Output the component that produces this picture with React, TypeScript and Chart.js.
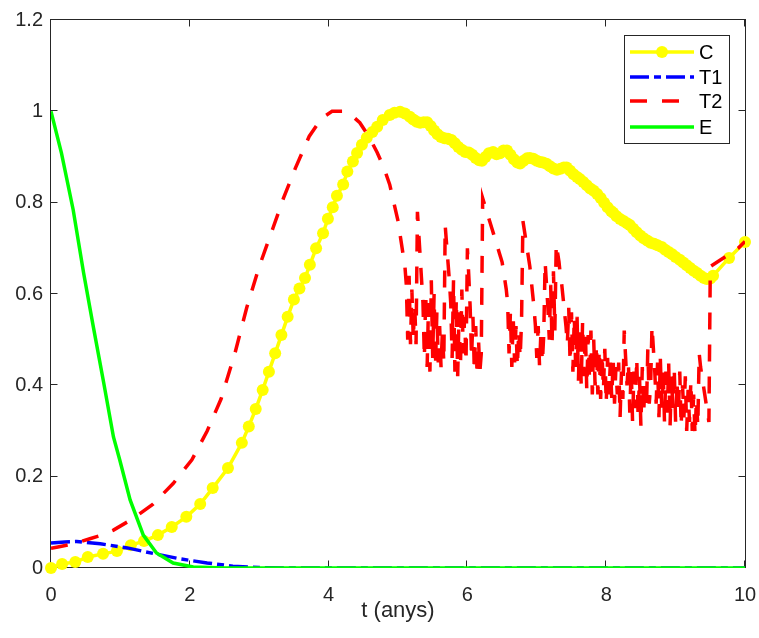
import React, { useEffect, useRef } from 'react';
import { Chart, registerables } from 'chart.js';

Chart.register(...registerables);

// ---- data ----
const C_T = [0, 0.16, 0.35, 0.53, 0.75, 0.95, 1.15, 1.34, 1.54, 1.74, 1.95, 2.15, 2.33, 2.55, 2.75,
  2.85, 2.95, 3.05, 3.14, 3.23, 3.32, 3.41, 3.5, 3.58, 3.66, 3.73, 3.82, 3.92, 3.99, 4.06, 4.12, 4.21,
  4.27, 4.35, 4.41, 4.48, 4.55, 4.63, 4.7, 4.78,
  4.88, 4.95, 5.03, 5.1, 5.17, 5.22, 5.27, 5.32, 5.37, 5.42, 5.47, 5.52, 5.57, 5.62, 5.67, 5.72, 5.77,
  5.82, 5.87, 5.92, 5.97, 6.02, 6.07, 6.12, 6.17, 6.21, 6.26, 6.31, 6.37, 6.42, 6.47, 6.52, 6.57, 6.62,
  6.67, 6.72, 6.76, 6.81, 6.86, 6.9, 6.95, 7.0, 7.05, 7.09, 7.14, 7.19, 7.24, 7.29, 7.34, 7.39, 7.43,
  7.48, 7.53, 7.58, 7.62, 7.67, 7.72, 7.77, 7.82, 7.87, 7.92, 7.97, 8.02, 8.07, 8.1, 8.15, 8.2, 8.25,
  8.3, 8.34, 8.39, 8.44, 8.49, 8.54, 8.59, 8.64, 8.69, 8.74, 8.8, 8.85, 8.9, 8.95, 9.0, 9.06, 9.11,
  9.16, 9.21, 9.26, 9.31, 9.36, 9.41, 9.45, 9.5, 9.54, 9.77, 10.0];
const C_V = [0, 0.009, 0.013, 0.024, 0.031, 0.037, 0.05, 0.059, 0.072, 0.09, 0.112, 0.14, 0.175, 0.219, 0.274,
  0.31, 0.348, 0.39, 0.43, 0.47, 0.51, 0.55, 0.588, 0.612, 0.635, 0.664, 0.7, 0.733, 0.765, 0.79, 0.815, 0.84,
  0.868, 0.89, 0.909, 0.927, 0.942, 0.955, 0.966, 0.981,
  0.992, 0.997, 0.999, 0.995, 0.988, 0.982, 0.977, 0.975, 0.976, 0.976, 0.968, 0.958, 0.95, 0.944, 0.941, 0.94, 0.937,
  0.93, 0.922, 0.916, 0.911, 0.91, 0.905, 0.898, 0.893, 0.892, 0.9, 0.908, 0.911, 0.906, 0.908, 0.914, 0.914, 0.905,
  0.895, 0.888, 0.886, 0.892, 0.897, 0.898, 0.896, 0.892, 0.889, 0.888, 0.885, 0.88, 0.875, 0.872, 0.874, 0.877, 0.877,
  0.87, 0.862, 0.856, 0.852, 0.845, 0.838, 0.831, 0.826, 0.819, 0.81, 0.8, 0.79, 0.782, 0.778, 0.77, 0.764, 0.76,
  0.755, 0.751, 0.743, 0.735, 0.728, 0.722, 0.717, 0.712, 0.71, 0.707, 0.703, 0.697, 0.692, 0.687, 0.681, 0.675, 0.669,
  0.663, 0.657, 0.651, 0.646, 0.64, 0.635, 0.633, 0.634, 0.64, 0.679, 0.714];

const T1_T = [0, 0.2, 0.37, 0.71, 1.1, 1.47, 1.86, 2.25, 2.62, 3.0, 3.4, 10];
const T1_V = [0.055, 0.057, 0.058, 0.053, 0.044, 0.032, 0.02, 0.011, 0.004, 0.001, 0, 0];

// T2: smooth start
const T2_SMOOTH_T = [0, 0.1, 0.3, 0.56, 0.75, 0.9, 1.18, 1.47, 1.76, 2.03, 2.25, 2.45, 2.65, 2.82, 3.0, 3.2,
  3.35, 3.52, 3.72, 3.9, 4.05, 4.2, 4.32, 4.45, 4.58, 4.7, 4.8, 4.88, 5.0, 5.07, 5.1];
const T2_SMOOTH_V = [0.043, 0.046, 0.052, 0.064, 0.073, 0.083, 0.108, 0.14, 0.185, 0.237, 0.3, 0.37, 0.47, 0.57, 0.66, 0.745,
  0.81, 0.875, 0.945, 0.985, 1.0, 1.0, 0.993, 0.975, 0.945, 0.91, 0.875, 0.84, 0.76, 0.69, 0.66];
// T2: oscillating part, samples every 0.02 from t = 5.12
const T2_NOISE_START = 5.12;
const T2_NOISE_STEP = 0.02;
const T2_NOISE_V = [
  0.62, 0.50, 0.64, 0.49, 0.61, 0.50, 0.58, 0.49, 0.78, 0.73, 0.68, 0.63, 0.58, 0.46, 0.60, 0.44, 0.58, 0.43, 0.63, 0.46,
  0.60, 0.44, 0.56, 0.45, 0.53, 0.44, 0.52, 0.45, 0.75, 0.71, 0.67, 0.63, 0.58, 0.46, 0.63, 0.43, 0.59, 0.42, 0.56, 0.44,
  0.61, 0.47, 0.55, 0.45, 0.70, 0.64, 0.57, 0.46, 0.55, 0.43, 0.53, 0.42, 0.50, 0.43, 0.47, 0.81, 0.80, 0.79, 0.78, 0.77,
  0.76, 0.75, 0.74, 0.73, 0.72, 0.71, 0.70, 0.69, 0.68, 0.67, 0.65, 0.63, 0.61, 0.58, 0.47, 0.56, 0.44, 0.55, 0.45, 0.53,
  0.44, 0.52, 0.46, 0.54, 0.76, 0.74, 0.72, 0.70, 0.68, 0.66, 0.63, 0.60, 0.57, 0.53, 0.46, 0.53, 0.44, 0.52, 0.45, 0.51,
  0.67, 0.62, 0.57, 0.50, 0.62, 0.49, 0.65, 0.52, 0.71, 0.69, 0.67, 0.64, 0.62, 0.59, 0.56, 0.53, 0.49, 0.57, 0.45, 0.56,
  0.43, 0.55, 0.44, 0.55, 0.41, 0.53, 0.40, 0.54, 0.42, 0.52, 0.39, 0.51, 0.41, 0.52, 0.38, 0.50, 0.40, 0.49, 0.38, 0.48,
  0.37, 0.47, 0.39, 0.48, 0.36, 0.46, 0.38, 0.45, 0.37, 0.46, 0.36, 0.44, 0.38, 0.45, 0.33, 0.43, 0.37, 0.52, 0.46, 0.40,
  0.45, 0.34, 0.44, 0.32, 0.43, 0.35, 0.46, 0.33, 0.42, 0.31, 0.44, 0.34, 0.41, 0.35, 0.48, 0.36, 0.40, 0.53, 0.48, 0.43,
  0.36, 0.45, 0.33, 0.46, 0.35, 0.44, 0.32, 0.43, 0.34, 0.45, 0.31, 0.42, 0.35, 0.44, 0.32, 0.41, 0.34, 0.43, 0.31, 0.40,
  0.33, 0.42, 0.30, 0.39, 0.32, 0.41, 0.30, 0.38, 0.29, 0.37, 0.31, 0.47, 0.44, 0.42, 0.40, 0.38, 0.36, 0.34, 0.32, 0.66];
const T2_END_T = [9.6, 9.75, 9.9, 10.0];
const T2_END_V = [0.67, 0.685, 0.7, 0.715];

const E_T = [0, 0.15, 0.32, 0.47, 0.61, 0.76, 0.9, 0.99, 1.14, 1.33, 1.52, 1.76, 2.05, 2.5, 10];
const E_V = [1.0, 0.909, 0.784, 0.646, 0.528, 0.405, 0.287, 0.237, 0.149, 0.072, 0.033, 0.011, 0.002, 0, 0];

const X_TICKS = [0, 2, 4, 6, 8, 10];
const X_TICK_LABELS = ['0', '2', '4', '6', '8', '10'];
const Y_TICKS = [0, 0.2, 0.4, 0.6, 0.8, 1.0, 1.2];
const Y_TICK_LABELS = ['0', '0.2', '0.4', '0.6', '0.8', '1', '1.2'];
const SERIES_LABELS = ['C', 'T1', 'T2', 'E'];
const X_TITLE = 't (anys)';

const FONT = '"Liberation Sans", Arial, Helvetica, sans-serif';
const AXIS_COLOR = '#262626';

function pts(ts: number[], vs: number[]) {
  return ts.map((t, i) => ({ x: t, y: vs[i] }));
}

const framePlugin = {
  id: 'matlabFrame',
  beforeDatasetsDraw(chart: any) {
    const { ctx, chartArea: a, scales } = chart;
    ctx.save();
    ctx.strokeStyle = AXIS_COLOR;
    ctx.lineWidth = 1;
    const L = Math.round(a.left) - 0.5;
    const R = Math.round(a.right) + 0.5;
    const T = Math.round(a.top) - 0.5;
    const B = Math.round(a.bottom) - 0.5;
    ctx.strokeRect(L, T, R - L, B - T);
    const len = 7;
    ctx.beginPath();
    X_TICKS.forEach((v) => {
      const px = Math.round(scales.x.getPixelForValue(v)) - 0.5;
      ctx.moveTo(px, B); ctx.lineTo(px, B - len);
      ctx.moveTo(px, T); ctx.lineTo(px, T + len);
    });
    Y_TICKS.forEach((v) => {
      const py = Math.round(scales.y.getPixelForValue(v)) - 0.5;
      ctx.moveTo(L, py); ctx.lineTo(L + len, py);
      ctx.moveTo(R, py); ctx.lineTo(R - len, py);
    });
    ctx.stroke();
    ctx.restore();
  },
};

const legendPlugin = {
  id: 'insideLegend',
  afterDraw(chart: any) {
    const { ctx } = chart;
    const box = { x: 624.5, y: 35.5, w: 105, h: 108 };
    ctx.save();
    ctx.fillStyle = '#ffffff';
    ctx.fillRect(box.x, box.y, box.w, box.h);
    ctx.strokeStyle = AXIS_COLOR;
    ctx.lineWidth = 1;
    ctx.strokeRect(box.x, box.y, box.w, box.h);
    const rows = [52, 77, 101, 127];
    const order = [0, 1, 2, 3];
    order.forEach((di, r) => {
      const ds = chart.data.datasets[di];
      const y = rows[r];
      ctx.save();
      ctx.strokeStyle = ds.borderColor;
      ctx.lineWidth = ds.borderWidth;
      ctx.setLineDash(ds.borderDash || []);
      ctx.beginPath();
      ctx.moveTo(630, y);
      ctx.lineTo(694, y);
      ctx.stroke();
      ctx.restore();
      if (ds.pointRadius > 0) {
        ctx.fillStyle = ds.pointBackgroundColor;
        ctx.beginPath();
        ctx.arc(662, y, ds.pointRadius, 0, Math.PI * 2);
        ctx.fill();
      }
      ctx.fillStyle = '#000000';
      ctx.font = `20px ${FONT}`;
      ctx.textBaseline = 'middle';
      ctx.textAlign = 'left';
      ctx.fillText(ds.label, 699, y + 1);
    });
    ctx.restore();
  },
};

export default function App() {
  const ref = useRef<HTMLCanvasElement | null>(null);
  useEffect(() => {
    if (!ref.current) return;
    const t2 = [
      ...pts(T2_SMOOTH_T, T2_SMOOTH_V),
      ...T2_NOISE_V.map((v, i) => ({ x: +(T2_NOISE_START + T2_NOISE_STEP * i).toFixed(2), y: v })),
      ...pts(T2_END_T, T2_END_V),
    ];
    const chart = new Chart(ref.current, {
      type: 'line',
      data: {
        datasets: [
          {
            label: SERIES_LABELS[0], data: pts(C_T, C_V), borderColor: '#ffff00', backgroundColor: '#ffff00',
            borderWidth: 3.5, pointRadius: 6, pointBackgroundColor: '#ffff00', pointBorderWidth: 0,
            pointHoverRadius: 6, tension: 0, order: 4, clip: false,
          },
          {
            label: SERIES_LABELS[1], data: pts(T1_T, T1_V), borderColor: '#0000ff', borderWidth: 3.5,
            borderDash: [19, 5, 7, 5], pointRadius: 0, tension: 0, order: 3,
          },
          {
            label: SERIES_LABELS[2], data: t2, borderColor: '#ff0000', borderWidth: 3.5,
            borderDash: [17, 15], pointRadius: 0, tension: 0, order: 2,
          },
          {
            label: SERIES_LABELS[3], data: pts(E_T, E_V), borderColor: '#00ff00', borderWidth: 3.5,
            pointRadius: 0, tension: 0, order: 1,
          },
        ],
      },
      options: {
        responsive: false,
        animation: false,
        devicePixelRatio: 1,
        events: [],
        layout: { padding: { left: 0, top: 20, right: 14, bottom: 0 } },
        plugins: { legend: { display: false }, tooltip: { enabled: false } },
        scales: {
          x: {
            type: 'linear', min: 0, max: 10,
            grid: { display: false, drawTicks: false }, border: { display: false },
            afterBuildTicks: (s: any) => { s.ticks = X_TICKS.map((v) => ({ value: v })); },
            afterFit: (s: any) => { s.height = 70; s.paddingLeft = 0; s.paddingRight = 0; },
            ticks: {
              padding: 15, color: AXIS_COLOR, font: { family: FONT, size: 20 }, maxRotation: 0,
              callback: (_v: any, i: number) => X_TICK_LABELS[i],
            },
            title: {
              display: true, text: X_TITLE, color: AXIS_COLOR, font: { family: FONT, size: 22 },
              padding: { top: 0, bottom: 14 },
            },
          },
          y: {
            type: 'linear', min: 0, max: 1.2,
            grid: { display: false, drawTicks: false }, border: { display: false },
            afterBuildTicks: (s: any) => { s.ticks = Y_TICKS.map((v) => ({ value: v })); },
            afterFit: (s: any) => { s.width = 51; s.paddingTop = 0; s.paddingBottom = 0; },
            ticks: {
              padding: 8, color: AXIS_COLOR, font: { family: FONT, size: 20 },
              callback: (_v: any, i: number) => Y_TICK_LABELS[i],
            },
          },
        },
      },
      plugins: [framePlugin, legendPlugin],
    } as any);
    return () => chart.destroy();
  }, []);
  return (
    <div style={{ position: 'fixed', left: 0, top: 0, width: 759, height: 638, background: '#ffffff' }}>
      <canvas ref={ref} width={759} height={638} style={{ width: 759, height: 638, display: 'block' }} />
    </div>
  );
}
